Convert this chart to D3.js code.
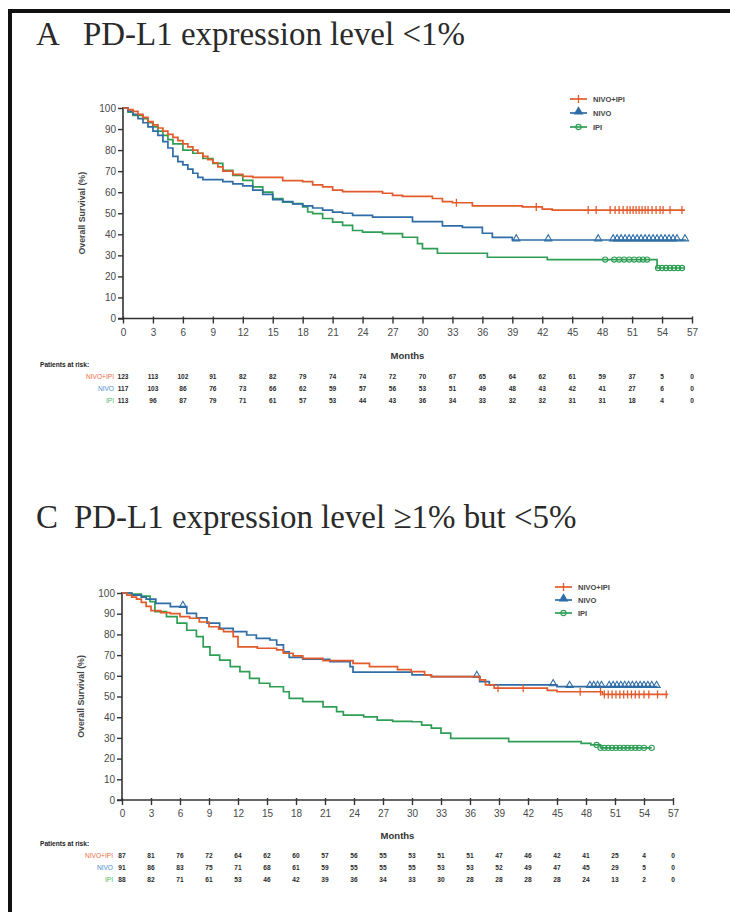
<!DOCTYPE html>
<html><head><meta charset="utf-8">
<script src="https://cdn.jsdelivr.net/npm/d3@7"></script>
<style>body{margin:0;background:#fff}svg{display:block}</style>
</head><body>
<svg id="c" width="730" height="912"></svg>
<script>
// ---------- data ----------
const monthTicks = [0,3,6,9,12,15,18,21,24,27,30,33,36,39,42,45,48,51,54,57];
const survTicks = [0,10,20,30,40,50,60,70,80,90,100];
const seriesNames = ["NIVO+IPI","NIVO","IPI"];

const titleA = ["A", "PD-L1 expression level <1%"];
const titleC = ["C", "PD-L1 expression level \u22651% but <5%"];

// Panel A: Kaplan-Meier steps [month, survival %]
const A_NIVO_IPI = [[0,100],[0.5,99.2],[1,98.4],[1.5,97],[2,95.5],[2.5,93.5],[3,92],[3.5,90.5],[4,89],[4.5,87.5],[5,86],[5.5,84.5],[6,83],[6.5,81.5],[7,80],[7.5,78.5],[8,77],[8.5,75.5],[9,74],[9.5,72],[10,70],[11,68.5],[12,67.5],[13,67],[16,65.5],[18,65],[19,63.5],[20,62.5],[21,61],[22,60.3],[26,59.5],[27,58.5],[28,58],[31,57],[32,55.5],[33,55],[35,53.5],[40,53],[42,52],[43,51.5],[56.3,51.5]];
const A_NIVO = [[0,100],[0.5,98.5],[1,97],[1.5,95],[2,93],[2.5,91],[3,89],[3.5,87],[4,84],[4.5,81],[5,77],[5.5,74.5],[6,73],[6.5,71],[7,69],[7.5,67],[8,66],[10,65],[11,64],[12,63],[13,61],[14,59],[15,56.5],[16,55.5],[17,54.5],[18,53.5],[19,52.5],[20,51.5],[21,50.5],[22,50],[23,49],[25,48.2],[29,46],[32,44],[34,43.3],[36,40.5],[37,38.5],[39,37.3],[56.4,37.3]];
const A_IPI = [[0,100],[0.5,98],[1,96.5],[2,95],[2.5,93],[3,91],[3.5,89],[4,87],[4.5,85],[5,83],[6,80],[7,78.5],[8,76],[9,73.7],[10,70.4],[11,68],[12,65.6],[13,62.5],[14,60],[15,57],[16,55.3],[17,54.6],[18,53],[18.5,50.6],[19,49.8],[20,47.5],[21,45.8],[22,44.2],[23,41.8],[24,41],[26,40.3],[28,38.6],[29.5,35.6],[30,33.2],[31.5,31],[36.5,29.1],[42.5,28],[53.5,24],[56.2,24]];
const A_NIVO_IPI_CENS = [33.4,41.4,46.6,47.4,48.8,49.3,49.7,50.1,50.5,50.8,51.1,51.4,51.7,52,52.3,52.6,53,53.4,53.8,54.1,54.8,56];
const A_NIVO_CENS = [39.4,42.6,47.6,49.1,49.5,49.9,50.3,50.7,51.1,51.5,51.9,52.3,52.7,53.1,53.5,53.9,54.3,54.7,55.1,55.5,56.3];
const A_IPI_CENS = [48.3,49.2,49.7,50.2,50.7,51.2,51.7,52.1,52.5,53.6,54,54.4,54.8,55.2,55.6,56];

const A_RISK_NIVO_IPI = [123,113,102,91,82,82,79,74,74,72,70,67,65,64,62,61,59,37,5,0];
const A_RISK_NIVO = [117,103,86,76,73,66,62,59,57,56,53,51,49,48,43,42,41,27,6,0];
const A_RISK_IPI = [113,96,87,79,71,61,57,53,44,43,36,34,33,32,32,31,31,18,4,0];

// Panel C
const C_NIVO_IPI = [[0,100],[0.5,99],[1,98],[1.5,97],[2,95.5],[2.5,93.5],[3,91.5],[4,90.5],[5,90],[6,88.6],[7,87.8],[8,86],[9,83.7],[10,82.5],[10.5,81.3],[11.5,78.9],[12,74],[14,73.3],[16,72.5],[16.7,70.9],[17.7,69.6],[18.7,68.4],[20.8,67.3],[23.9,66],[25.6,64.4],[28.5,63],[29.9,62],[31.3,60.4],[32,59.6],[37,58],[37.6,55.6],[38.5,54],[44,53],[45,52.3],[49.7,51],[56.5,51]];
const C_NIVO = [[0,100],[1,99],[2,98],[2.5,97],[3.5,95],[5,93.4],[6.7,90.2],[7.7,88],[8.8,85.4],[10.1,82.9],[11.5,81.3],[12.9,79.7],[13.9,78.1],[15.3,77.3],[16,74.9],[16.7,71.6],[17.3,68.9],[18.7,68],[21.5,66.8],[23.6,64.4],[23.9,61.8],[30,60.4],[32,59.6],[37,57.2],[38,55.6],[45,54.8],[55.4,54.8]];
const C_IPI = [[0,100],[1,99.5],[2,98.5],[2.9,95.8],[3.4,91],[4.6,88.6],[5.7,85.4],[6.7,82],[7.7,78.9],[8.4,74],[9.1,70],[10.1,67.6],[11.2,64.4],[12.2,62],[13.2,58.8],[14.2,56.4],[15.3,54.7],[16.7,52.3],[17.3,49.1],[18.7,47.5],[20.8,45],[22.2,42.7],[22.9,41],[25,40.2],[26.4,38.6],[28,38],[30,37.8],[31,36.2],[32,34.7],[33,32.3],[34,29.8],[40,28.2],[47.5,27.4],[48.5,26.6],[49.5,25.2],[54.8,25.2]];
const C_NIVO_IPI_CENS = [38.9,41.5,47.4,49.5,49.9,50.3,50.7,51.1,51.5,51.9,52.3,52.7,53.1,53.5,54,54.5,55.4,56.3];
const C_NIVO_CENS = [6.3,36.7,44.6,46.3,48.4,48.8,49.2,49.6,50.4,50.8,51.2,51.6,52,52.4,52.8,53.2,53.6,54,54.4,54.8,55.3];
const C_IPI_CENS = [49.1,49.5,49.9,50.3,50.7,51.1,51.5,51.9,52.3,52.7,53.1,53.5,54,54.8];

const C_RISK_NIVO_IPI = [87,81,76,72,64,62,60,57,56,55,53,51,51,47,46,42,41,25,4,0];
const C_RISK_NIVO = [91,86,83,75,71,68,61,59,55,55,55,53,53,52,49,47,45,29,5,0];
const C_RISK_IPI = [88,82,71,61,53,46,42,39,36,34,33,30,28,28,28,28,24,13,2,0];

// ---------- style ----------
const COL = {"NIVO+IPI":"#e35a2b","NIVO":"#2f6da6","IPI":"#2f9e55"};
const RISKCOL = {"NIVO+IPI":"#f06a45","NIVO":"#4b8fcf","IPI":"#49b866"};
const SANS = "'Liberation Sans', Arial, sans-serif";
const SERIF = "'Liberation Serif', 'Times New Roman', serif";

const svg = d3.select("#c");

// frame
svg.append("rect").attr("x",8).attr("y",9).attr("width",730).attr("height",4).attr("fill","#111");
svg.append("rect").attr("x",8).attr("y",9).attr("width",4).attr("height",912).attr("fill","#111");

let titleFs = null;
function title(t, y, xP, targetEnd){
  const g = svg.append("g").attr("font-family",SERIF).attr("fill","#2a2a2a");
  const lead = g.append("text").attr("x",36).attr("y",y).attr("font-size",29).text(t[0]);
  const tx = g.append("text").attr("x",xP).attr("y",y).attr("font-size",29).text(t[1]);
  if(titleFs === null){
    const w = tx.node().getComputedTextLength();
    titleFs = 29 * (targetEnd - xP) / w;
  }
  tx.attr("font-size", titleFs);
  lead.attr("font-size", titleFs);
}

function panel(cfg){
  const x = d3.scaleLinear().domain([0,57]).range([cfg.x0,cfg.x1]);
  const y = d3.scaleLinear().domain([0,100]).range([cfg.y0,cfg.y1]);
  const g = svg.append("g");

  // axes
  const ya = g.append("g").attr("transform",`translate(${cfg.x0},0)`)
    .call(d3.axisLeft(y).tickValues(survTicks).tickSize(5).tickPadding(2).tickSizeOuter(0));
  const xa = g.append("g").attr("transform",`translate(0,${cfg.y0})`)
    .call(d3.axisBottom(x).tickValues(monthTicks).tickSize(5).tickPadding(5).tickSizeOuter(0));
  [ya,xa].forEach(a=>{
    a.select(".domain").attr("stroke","#333").attr("stroke-width",1.6);
    a.selectAll(".tick line").attr("stroke","#333").attr("stroke-width",1.4);
    a.selectAll(".tick text").attr("font-family",SANS).attr("font-size",10).attr("fill","#4a4a4a");
  });
  ya.select(".domain").attr("d",`M0,${cfg.y0+1}V${cfg.y1-1}`);
  xa.select(".domain").attr("d",`M${cfg.x0-5},0H${cfg.x1+1}`);
  xa.selectAll(".tick line").attr("y1",-2);

  // axis titles
  g.append("text").attr("transform",`translate(${cfg.x0-38},${(cfg.y0+cfg.y1)/2}) rotate(-90)`)
    .attr("text-anchor","middle").attr("font-family",SANS).attr("font-weight","bold")
    .attr("font-size",8.8).attr("fill","#444").text("Overall Survival (%)");
  g.append("text").attr("x",(cfg.x0+cfg.x1)/2).attr("y",cfg.y0+cfg.monthsDy)
    .attr("text-anchor","middle").attr("font-family",SANS).attr("font-weight","bold")
    .attr("font-size",9.5).attr("fill","#333").text("Months");

  const line = d3.line().x(d=>x(d[0])).y(d=>y(d[1])).curve(d3.curveStepAfter);
  const stepAt = (data,t)=>{ let v=data[0][1]; for(const d of data){ if(d[0]<=t) v=d[1]; } return v; };

  const order = [["IPI",cfg.ipi,cfg.ipiC],["NIVO",cfg.nivo,cfg.nivoC],["NIVO+IPI",cfg.ni,cfg.niC]];
  order.forEach(([name,data,cens])=>{
    g.append("path").datum(data).attr("d",line).attr("fill","none")
      .attr("stroke",COL[name]).attr("stroke-width",1.7);
    const m = g.append("g");
    cens.forEach(t=>{
      marker(m,name,x(t),y(stepAt(data,t)));
    });
  });

  // legend
  const lg = g.append("g");
  seriesNames.forEach((n,i)=>{
    const ly = cfg.ly + i*cfg.lstep;
    lg.append("line").attr("x1",cfg.lx).attr("x2",cfg.lx+17).attr("y1",ly).attr("y2",ly)
      .attr("stroke",COL[n]).attr("stroke-width",1.7);
    marker(lg,n,cfg.lx+8.5,ly,true);
    lg.append("text").attr("x",cfg.lx+23).attr("y",ly+2.7).attr("font-family",SANS)
      .attr("font-weight","bold").attr("font-size",7.5).attr("fill","#444").text(n);
  });

  // risk table
  const rt = g.append("g").attr("font-family",SANS).attr("font-size",6.6);
  rt.append("text").attr("x",cfg.rtx).attr("y",cfg.rty).attr("font-weight","bold")
    .attr("fill","#222").text("Patients at risk:");
  const rows = [["NIVO+IPI",cfg.rNI],["NIVO",cfg.rN],["IPI",cfg.rI]];
  rows.forEach(([n,vals],i)=>{
    const ry = cfg.rty + cfg.rfirst + i*cfg.rstep;
    rt.append("text").attr("x",cfg.x0-9).attr("y",ry).attr("text-anchor","end")
      .attr("fill",RISKCOL[n]).text(n);
    vals.forEach((v,j)=>{
      rt.append("text").attr("x",x(monthTicks[j])).attr("y",ry).attr("text-anchor","middle")
        .attr("fill","#2a2a2a").attr("font-weight","bold").text(v);
    });
  });
}

function marker(sel,name,cx,cy,legend){
  const c = COL[name];
  if(name==="NIVO+IPI"){
    sel.append("line").attr("x1",cx).attr("x2",cx).attr("y1",cy-4).attr("y2",cy+4)
      .attr("stroke",c).attr("stroke-width",1.3);
  } else if(name==="NIVO"){
    sel.append("path").attr("d",d3.symbol(d3.symbolTriangle, legend?26:22)())
      .attr("transform",`translate(${cx},${cy-1.2})`).attr("fill",legend?c:"none")
      .attr("stroke",c).attr("stroke-width",1.1);
  } else {
    sel.append("circle").attr("cx",cx).attr("cy",cy).attr("r",2.6).attr("fill","none")
      .attr("stroke",c).attr("stroke-width",1.1);
  }
}

title(titleA, 45, 83, 465);
title(titleC, 528, 74, 580);

panel({x0:123,x1:692,y0:318.5,y1:108,monthsDy:40,
  ni:A_NIVO_IPI,nivo:A_NIVO,ipi:A_IPI,niC:A_NIVO_IPI_CENS,nivoC:A_NIVO_CENS,ipiC:A_IPI_CENS,
  lx:570,ly:99,lstep:14,
  rtx:40,rty:367,rfirst:12,rstep:12,rNI:A_RISK_NIVO_IPI,rN:A_RISK_NIVO,rI:A_RISK_IPI});
panel({x0:122,x1:673,y0:800,y1:593,monthsDy:39,
  ni:C_NIVO_IPI,nivo:C_NIVO,ipi:C_IPI,niC:C_NIVO_IPI_CENS,nivoC:C_NIVO_CENS,ipiC:C_IPI_CENS,
  lx:555,ly:587,lstep:13,
  rtx:40,rty:846,rfirst:11.5,rstep:12,rNI:C_RISK_NIVO_IPI,rN:C_RISK_NIVO,rI:C_RISK_IPI});
</script>
</body></html>
